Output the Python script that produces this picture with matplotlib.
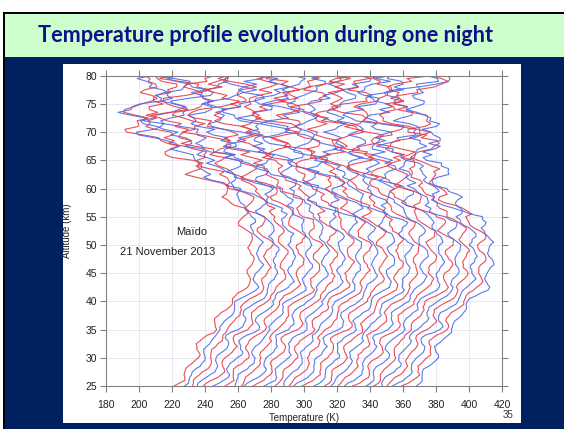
import numpy as np
import matplotlib.pyplot as plt
from matplotlib.patches import Rectangle

# altitude grid of the lidar profiles (km), 0.5 km step
altitude = np.arange(25.0, 80.01, 0.5)

# first profile of the night (K), read every 0.5 km from 25 to 80 km
base_profile = [
    221, 223, 225, 226.5, 228, 229, 230, 231, 232, 233,
    234, 235, 235.5, 236, 237, 237.5, 238, 238.5, 240, 243,
    245.5, 246.5, 247, 247.5, 248, 249, 250, 251.5, 253, 254.5,
    256, 258, 260, 262, 264, 265, 265.5, 266, 266.5, 267,
    267, 267.5, 267.5, 268, 268, 268, 268, 268, 268, 268,
    268, 267.5, 267, 266.5, 266, 265.5, 265, 264, 263.5, 263,
    262, 261.5, 261, 260, 259, 258, 257, 255.5, 254, 252,
    250, 247.5, 245, 242.5, 240, 238, 236, 234, 232, 230.5,
    229, 226.5, 224, 221, 218, 215.5, 213, 211, 209, 206.5,
    204, 201.5, 199, 195.5, 192, 191, 192, 195, 198, 200,
    202, 203.5, 205, 206, 207, 207, 207, 205, 203, 201.5,
    200,
]

# change of the mesosphere between first and last profile (K), same grid
late_change = [
    0, 0, 0, 0, 0, 0, 0, 0, 0, 0,
    0, 0, 0, 0, 0, 0, 0, 0, 0, 0,
    0, 0, 0, 0, 0, 0, 0, 0, 0, 0,
    0, 0, 0, 0, 0, 0, 0, 0, 0, 0,
    0, 0, 0, 0, 0, 0, 0, 0, 0, 0,
    0, 0, 0, 0, 0, 0, 0, 0, 0, -1.5,
    -3, -4.5, -6, -7.5, -9, -10, -11, -10.5, -10, -9,
    -8, -6.5, -5, -3.5, -2, -0.5, 1, 2, 3, 4,
    5, 7.5, 10, 12.5, 15, 17.5, 20, 23, 26, 29,
    32, 34, 36, 37, 38, 36, 34, 29.5, 25, 21.5,
    18, 18, 18, 19, 20, 23, 26, 30, 34, 37,
    40,
]

# amplitudes (K), every 1 km from 25 to 80 km
wave_amp = [2.2] * 25 + [3.0] * 10 + [4.0] * 21
upper_amp = [0.6] * 25 + [1.5] * 5 + [3.0] * 5 + [5.0] * 5 + [8.0] * 5 + [10.0] * 11
jitter_amp = [0.4] * 30 + [1.0] * 10 + [2.0] * 16

# descending wave shape read along the profiles (0.5 km step)
wave_shape = [
    0.0, 0.6, 1.0, 0.7, 0.1, -0.5, -0.9, -0.8, -0.3, 0.3,
    0.8, 1.0, 0.5, -0.2, -0.7, -1.0, -0.6, 0.0, 0.5, 0.9,
    0.8, 0.2, -0.4, -0.9, -0.9, -0.4, 0.2, 0.7, 1.0, 0.6,
    0.0, -0.6, -1.0, -0.7, -0.1, 0.4, 0.9, 0.9, 0.3, -0.3,
    -0.8, -1.0, -0.5, 0.1, 0.6, 1.0, 0.7, 0.0, -0.5, -0.9,
    -0.8, -0.2, 0.4, 0.8, 0.9, 0.4, -0.2, -0.7, -1.0, -0.6,
    0.1, 0.7, 1.0, 0.6, -0.1, -0.6, -0.9, -0.7, -0.1, 0.5,
    0.9, 0.8, 0.3, -0.3, -0.8, -1.0, -0.5, 0.2, 0.8, 1.0,
    0.5, -0.2, -0.7, -0.9, -0.6, 0.0, 0.6, 1.0, 0.8, 0.1,
    -0.5, -1.0, -0.8, -0.2, 0.4, 0.9, 0.9, 0.3, -0.4, -0.9,
    -0.9, -0.3, 0.3, 0.8, 1.0, 0.4, -0.3, -0.8, -1.0, -0.5,
    0.2, 0.7, 1.0, 0.6, -0.1, -0.7, -1.0, -0.6, 0.1, 0.6,
    0.9, 0.7, 0.1, -0.5, -0.9, -0.8, -0.2, 0.5, 1.0, 0.7,
    0.0, -0.6, -1.0, -0.7, 0.0, 0.6, 0.9, 0.6, -0.1, -0.6,
]
# irregular mesospheric structure (0.5 km step)
upper_shape = [
    0.2, 0.7, 0.4, -0.3, -0.9, -0.5, 0.3, 1.0, 0.6, 0.8,
    0.1, -0.6, -0.2, -0.8, -1.0, -0.4, 0.5, 0.3, 0.9, 0.6,
    -0.1, -0.7, -0.3, 0.4, 0.0, -0.5, -0.9, -0.6, 0.2, 0.8,
    1.0, 0.4, 0.6, -0.2, -0.8, -0.4, -1.0, -0.6, 0.1, 0.7,
    0.3, 0.9, 0.5, -0.3, 0.1, -0.6, -0.9, -0.2, 0.4, 0.0,
    0.8, 1.0, 0.3, -0.4, -0.1, -0.8, -0.5, -1.0, -0.3, 0.5,
    0.2, 0.9, 0.6, 1.0, 0.1, -0.5, -0.2, -0.9, -0.6, 0.3,
    -0.1, 0.6, 0.8, 0.2, -0.6, -1.0, -0.4, 0.4, 0.0, 0.7,
    0.3, -0.5, -0.8, -0.2, 0.6, 0.9, 0.4, -0.3, 0.2, -0.7,
    -1.0, -0.5, 0.2, 0.7, 0.5, 1.0, 0.3, -0.4, -0.7, 0.1,
]
small_scale = [
    0.3, -0.8, 0.9, -0.2, -1.0, 0.6, 0.1, -0.5, 1.0, -0.9,
    0.4, 0.7, -0.6, -0.1, 0.8, -1.0, 0.2, 0.5, -0.7, 0.9,
    -0.3, -0.8, 0.6, 0.0, -0.4, 1.0, -0.6, 0.3, -0.9, 0.7,
    0.2, -0.5, 0.8, -1.0, 0.1, 0.6, -0.3, -0.7, 0.9, -0.2,
    0.5, -0.9, 0.4, 0.8, -0.6, -0.1, 1.0, -0.8, 0.3, -0.4,
    0.7, -1.0, 0.2, 0.6, -0.5, 0.9, -0.7, 0.0, 0.4, -0.9,
]

# one entry per profile of the night (red / blue alternate)
offsets = [0, 5, 10, 15, 20, 25, 30, 35, 40, 45,
           50, 55, 60, 65, 70, 75, 80, 85, 90, 95,
           100, 105, 110, 115, 120, 125, 130, 135, 140, 145]
late_weight = [0, 0, 0.02, 0.05, 0.08, 0.1, 0.13, 0.17, 0.2, 0.24,
               0.28, 0.32, 0.36, 0.4, 0.44, 0.48, 0.52, 0.56, 0.6, 0.64,
               0.68, 0.72, 0.76, 0.8, 0.84, 0.88, 0.91, 0.94, 0.97, 1.0]
wave_shift = [0, 2, 3, 5, 6, 8, 9, 11, 12, 14, 15, 17, 18, 20, 21,
              23, 24, 26, 27, 29, 30, 32, 33, 35, 36, 38, 39, 41, 42, 44]
upper_shift = [0, 37, 12, 64, 25, 81, 8, 53, 29, 90, 17, 70, 44, 3, 58,
               21, 86, 34, 76, 14, 49, 93, 6, 61, 27, 72, 40, 10, 55, 84]
jitter_shift = [0, 7, 13, 22, 5, 31, 17, 40, 9, 26, 48, 3, 35, 19, 44,
                11, 28, 52, 6, 37, 15, 46, 24, 2, 33, 50, 12, 41, 21, 55]

RED = "#e83a44"
BLUE = "#4a6be6"
NAVY = "#002060"

W, H = 564, 429
fig = plt.figure(figsize=(W / 100, H / 100), dpi=100)
fig.patch.set_facecolor("white")


def box(x, y, w, h, color, z):
    """rectangle in pixel coordinates (top-left origin)"""
    fig.patches.append(Rectangle((x / W, 1 - (y + h) / H), w / W, h / H,
                                 transform=fig.transFigure, facecolor=color,
                                 edgecolor="none", zorder=z))


# slide background
box(3, 12, 561, 417, "black", -10)
box(5, 14, 559, 43, "#ccffcc", -9)
box(5, 57, 559, 372, NAVY, -9)
box(63, 64, 458, 359, "white", -8)

fig.text(265 / W, 1 - 35 / H, "Temperature profile evolution during one night",
         ha="center", va="center", fontsize=15.6, fontweight="bold",
         color="#10108a", family="Lato")

# axes
ax = fig.add_axes([106 / W, 1 - 386 / H, 396 / W, 310.3 / H])
ax.set_facecolor("none")

base = np.array(base_profile)
change = np.array(late_change)
n = len(altitude)
amp = np.repeat(wave_amp, 2)[:n]
uamp = np.repeat(upper_amp, 2)[:n]
jamp = np.repeat(jitter_amp, 2)[:n]
idx = np.arange(n)

for i in range(len(offsets)):
    wave = np.take(wave_shape, idx + wave_shift[i], mode="wrap")
    upper = np.take(upper_shape, idx + upper_shift[i], mode="wrap")
    jitter = np.take(small_scale, idx + jitter_shift[i], mode="wrap")
    temp = (base + offsets[i] + late_weight[i] * change
            + amp * wave + uamp * upper + jamp * jitter)
    ax.plot(temp, altitude, color=RED if i % 2 == 0 else BLUE,
            lw=0.8, alpha=0.9)

ax.set_xlim(180, 420)
ax.set_ylim(25, 80)
ax.set_xticks(range(180, 421, 20))
ax.set_yticks(range(25, 81, 5))
ax.grid(True, color="#e4e4f4", lw=0.6)
ax.set_axisbelow(True)
for s in ax.spines.values():
    s.set_color("#808080")
ax.tick_params(direction="out", length=4, width=0.8, color="#808080",
               labelsize=7.5, labelcolor="#222222",
               top=True, right=True)
ax.tick_params(axis="x", pad=6)
ax.tick_params(axis="y", pad=2.5)
for lab in ax.get_xticklabels() + ax.get_yticklabels():
    lab.set_family("Liberation Sans")

ax.set_xlabel("Temperature (K)", fontsize=7, family="Liberation Sans", color="#222222")
ax.set_ylabel("Altitude (km)", fontsize=7, family="Liberation Sans", color="#222222")
ax.xaxis.set_label_coords(0.5, -0.087)
ax.yaxis.set_label_coords(-0.085, 0.5)

ax.text(232, 52.3, "Maïdo", ha="center", va="center", fontsize=8,
        family="Liberation Sans", color="#222222")
ax.text(217.6, 48.8, "21 November 2013", ha="center", va="center", fontsize=8,
        family="Liberation Sans", color="#222222")

fig.text(508 / W, 1 - 415 / H, "35", ha="center", va="center", fontsize=7,
         color="#333333", family="Liberation Sans")

fig.savefig("out.png", dpi=100)
